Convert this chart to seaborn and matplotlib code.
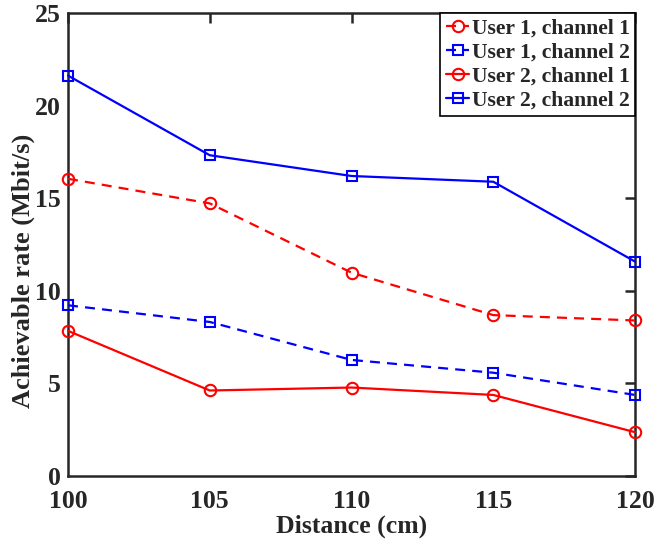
import matplotlib
matplotlib.use("Agg")
import matplotlib.pyplot as plt
import seaborn as sns
import pandas as pd

# Measured achievable rates versus transmitter-receiver distance
distance_cm = [100, 105, 110, 115, 120]
user1_ch1 = [16.05, 14.72, 10.98, 8.69, 8.40]
user1_ch2 = [9.22, 8.32, 6.27, 5.58, 4.38]
user2_ch1 = [7.84, 4.62, 4.78, 4.38, 2.37]
user2_ch2 = [21.62, 17.32, 16.20, 15.89, 11.58]

series_labels = ["User 1, channel 1", "User 1, channel 2",
                 "User 2, channel 1", "User 2, channel 2"]
series_values = [user1_ch1, user1_ch2, user2_ch1, user2_ch2]

x_ticks = [100, 105, 110, 115, 120]
y_ticks = [0, 5, 10, 15, 20, 25]

sns.set_theme(style="white")
plt.rcParams["font.family"] = ["Liberation Serif", "DejaVu Serif"]
plt.rcParams["font.weight"] = "bold"

styles = {
    "User 1, channel 1": dict(color="#ff0000", marker="o", dashes=(4.5, 3.2)),
    "User 1, channel 2": dict(color="#0000ff", marker="s", dashes=(4.5, 3.2)),
    "User 2, channel 1": dict(color="#ff0000", marker="o", dashes=None),
    "User 2, channel 2": dict(color="#0000ff", marker="s", dashes=None),
}

fig = plt.figure(figsize=(6.54, 5.41), dpi=100)
ax = fig.add_axes([0.104, 0.120, 0.867, 0.856])

for label, values in zip(series_labels, series_values):
    df = pd.DataFrame({"Distance": distance_cm, "Rate": values})
    st = styles[label]
    sns.lineplot(data=df, x="Distance", y="Rate", ax=ax, label=label,
                 color=st["color"], marker=st["marker"],
                 markersize=8.2 if st["marker"] == "o" else 7.0,
                 markerfacecolor="none", markeredgecolor=st["color"],
                 markeredgewidth=1.5, linewidth=1.6, clip_on=False,
                 zorder=3)
    line = ax.lines[-1]
    if st["dashes"] is not None:
        line.set_dashes(st["dashes"])

ax.set_xlim(100, 120)
ax.set_ylim(0, 25)
ax.set_xticks(x_ticks)
ax.set_yticks(y_ticks)
ax.set_xticklabels([str(v) for v in x_ticks], fontsize=18.5, fontweight="bold")
ax.set_yticklabels([str(v) for v in y_ticks], fontsize=18.5, fontweight="bold")
ax.tick_params(direction="in", length=7, width=1.8, color="#262626",
               top=True, right=True)
ax.tick_params(axis="y", pad=5)
ax.tick_params(axis="x", pad=10)

for sp in ax.spines.values():
    sp.set_visible(True)
    sp.set_color("#262626")
    sp.set_linewidth(1.8)
    sp.set_zorder(2.5)

ax.set_xlabel("Distance (cm)", fontsize=18.5, fontweight="bold", labelpad=1)
ax.set_ylabel("Achievable rate (Mbit/s)", fontsize=19, fontweight="bold")
ax.yaxis.set_label_coords(-0.059, 0.443)

leg = ax.legend(loc="upper right", fancybox=False,
                frameon=True, framealpha=1, edgecolor="black",
                prop={"family": "Liberation Serif", "weight": "bold",
                      "size": 15.6},
                handlelength=1.1, handletextpad=0.1, labelspacing=0.17,
                borderpad=0.25, borderaxespad=0)
leg.get_frame().set_linewidth(1.2)
leg.set_zorder(5)

fig.savefig("out.png", dpi=100)
